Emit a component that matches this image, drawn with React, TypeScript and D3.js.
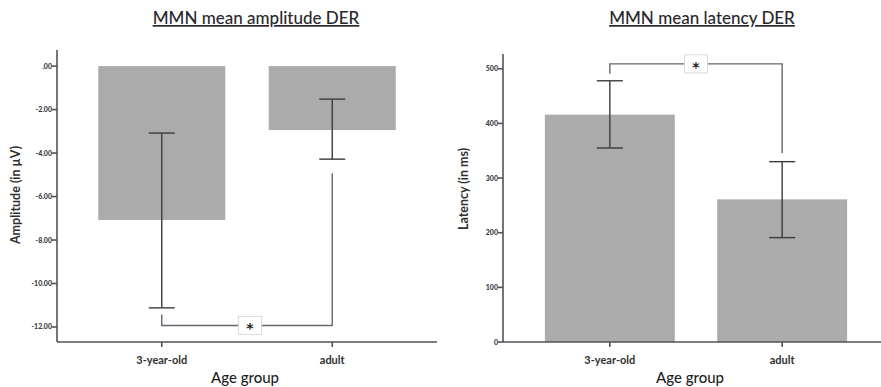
import React from "react";
import * as d3 from "d3";

// Categories and values
const groups = ["3-year-old", "adult"];

const amplitudeMeans = [-7.08, -2.94];
const amplitudeLow = [-11.12, -4.28];
const amplitudeHigh = [-3.08, -1.52];
const amplitudeTicks = [0, -2, -4, -6, -8, -10, -12];

const latencyMeans = [416, 261];
const latencyLow = [355, 191];
const latencyHigh = [478, 330];
const latencyTicks = [0, 100, 200, 300, 400, 500];

const BAR = "#ababab";
const AXIS = "#574f58";
const ERR = "#3f3a40";
const BRACKET = "#6a6470";
const FONT = "Lato, 'Open Sans', sans-serif";

type PanelProps = {
  title: string;
  titleX: number;
  yTitle: string;
  yTitleX: number;
  yTitleY: number;
  axisX: number;
  axisRight: number;
  bandRange: [number, number];
  padInner: number;
  padOuter: number;
  yDomain: [number, number];
  yRange: [number, number];
  means: number[];
  low: number[];
  high: number[];
  ticks: number[];
  tickFmt: (v: number) => string;
  baseline: number;
  starShift: number;
  bracket: { y: number; leftFrom: number; rightFrom: number };
};

function Panel(p: PanelProps) {
  const x = d3
    .scaleBand<string>()
    .domain(groups)
    .range(p.bandRange)
    .paddingInner(p.padInner)
    .paddingOuter(p.padOuter);
  const y = d3.scaleLinear().domain(p.yDomain).range(p.yRange);
  const bottom = p.yRange[0];
  const top = p.yRange[1];
  const cx = (g: string) => (x(g) as number) + x.bandwidth() / 2;
  const cap = 13;

  const bx0 = cx(groups[0]);
  const bx1 = cx(groups[1]);
  const by = y(p.bracket.y);
  const starX = (bx0 + bx1) / 2 + p.starShift;

  return (
    <g>
      <text
        x={p.titleX}
        y={24}
        textAnchor="middle"
        fontFamily={FONT}
        fontSize={17}
        fontWeight={500}
        fill="#2a272b"
        style={{ textDecoration: "underline" }}
      >
        {p.title}
      </text>
      {/* bars */}
      {groups.map((g, i) => {
        const y0 = y(p.baseline);
        const y1 = y(p.means[i]);
        return (
          <rect
            key={g}
            x={x(g)}
            y={Math.min(y0, y1)}
            width={x.bandwidth()}
            height={Math.abs(y1 - y0)}
            fill={BAR}
          />
        );
      })}
      {/* error bars */}
      {groups.map((g, i) => {
        const c = cx(g);
        return (
          <g key={g} stroke={ERR} strokeWidth={1.4}>
            <line x1={c} x2={c} y1={y(p.low[i])} y2={y(p.high[i])} />
            <line x1={c - cap} x2={c + cap} y1={y(p.low[i])} y2={y(p.low[i])} />
            <line x1={c - cap} x2={c + cap} y1={y(p.high[i])} y2={y(p.high[i])} />
          </g>
        );
      })}
      {/* significance bracket */}
      <path
        d={`M${bx0},${y(p.bracket.leftFrom)}V${by}H${bx1}V${y(p.bracket.rightFrom)}`}
        fill="none"
        stroke={BRACKET}
        strokeWidth={1.4}
      />
      <rect x={starX - 11.5} y={by - 9} width={23} height={18} fill="#fff" stroke="#dcdcdc" strokeWidth={1} />
      <text
        x={starX}
        y={by + 8}
        textAnchor="middle"
        fontFamily="'DejaVu Sans', sans-serif"
        fontWeight="bold"
        fontSize={14}
        fill="#222"
      >
        *
      </text>
      {/* axes */}
      <line x1={p.axisX} x2={p.axisX} y1={top} y2={bottom} stroke={AXIS} strokeWidth={1.6} />
      <line x1={p.axisX} x2={p.axisRight} y1={bottom} y2={bottom} stroke={AXIS} strokeWidth={1.6} />
      {p.ticks.map((t) => (
        <g key={t}>
          <line x1={p.axisX - 5} x2={p.axisX} y1={y(t)} y2={y(t)} stroke={AXIS} strokeWidth={1.6} />
          <text
            x={p.axisX - 5}
            y={y(t) + 2.5}
            textAnchor="end"
            fontFamily={FONT}
            fontSize={7}
            fontWeight={900}
            fill="#3a3a3a"
          >
            {p.tickFmt(t)}
          </text>
        </g>
      ))}
      {groups.map((g) => (
        <g key={g}>
          <line x1={cx(g)} x2={cx(g)} y1={bottom} y2={bottom + 5} stroke={AXIS} strokeWidth={1.6} />
          <text x={cx(g)} y={bottom + 22} textAnchor="middle" fontFamily={FONT} fontSize={11} fontWeight="bold" fill="#2f2f2f">
            {g}
          </text>
        </g>
      ))}
      <text
        x={(p.axisX + p.axisRight) / 2 - 2}
        y={bottom + 41}
        textAnchor="middle"
        fontFamily={FONT}
        fontSize={15}
        fontWeight={500}
        fill="#1f1f1f"
      >
        Age group
      </text>
      <text
        transform={`translate(${p.yTitleX},${p.yTitleY}) rotate(-90)`}
        textAnchor="middle"
        fontFamily={FONT}
        fontSize={12.5}
        fontWeight="bold"
        fill="#2f2f2f"
      >
        {p.yTitle}
      </text>
    </g>
  );
}

const fmtAmp = (v: number) => (v === 0 ? ".00" : d3.format(".2f")(v).replace("−", "-"));
const fmtLat = (v: number) => String(v);

export default function App() {
  return (
    <svg width={881} height={387} style={{ position: "absolute", left: 0, top: 0, background: "#fff" }}>
      <Panel
        title="MMN mean amplitude DER"
        titleX={256}
        yTitle="Amplitude (in µV)"
        yTitleX={20}
        yTitleY={195}
        axisX={57}
        axisRight={437}
        bandRange={[57, 437]}
        padInner={0.255}
        padOuter={0.242}
        yDomain={[-12.69, 0.74]}
        yRange={[342, 50]}
        means={amplitudeMeans}
        low={amplitudeLow}
        high={amplitudeHigh}
        ticks={amplitudeTicks}
        tickFmt={fmtAmp}
        baseline={0}
        starShift={3}
        bracket={{ y: -11.93, leftFrom: -11.43, rightFrom: -4.93 }}
      />
      <Panel
        title="MMN mean latency DER"
        titleX={702}
        yTitle="Latency (in ms)"
        yTitleX={468}
        yTitleY={189}
        axisX={503}
        axisRight={881}
        bandRange={[503, 889]}
        padInner={0.246}
        padOuter={0.243}
        yDomain={[0, 527]}
        yRange={[342, 54]}
        means={latencyMeans}
        low={latencyLow}
        high={latencyHigh}
        ticks={latencyTicks}
        tickFmt={fmtLat}
        baseline={0}
        starShift={0}
        bracket={{ y: 509, leftFrom: 491, rightFrom: 346 }}
      />
    </svg>
  );
}
